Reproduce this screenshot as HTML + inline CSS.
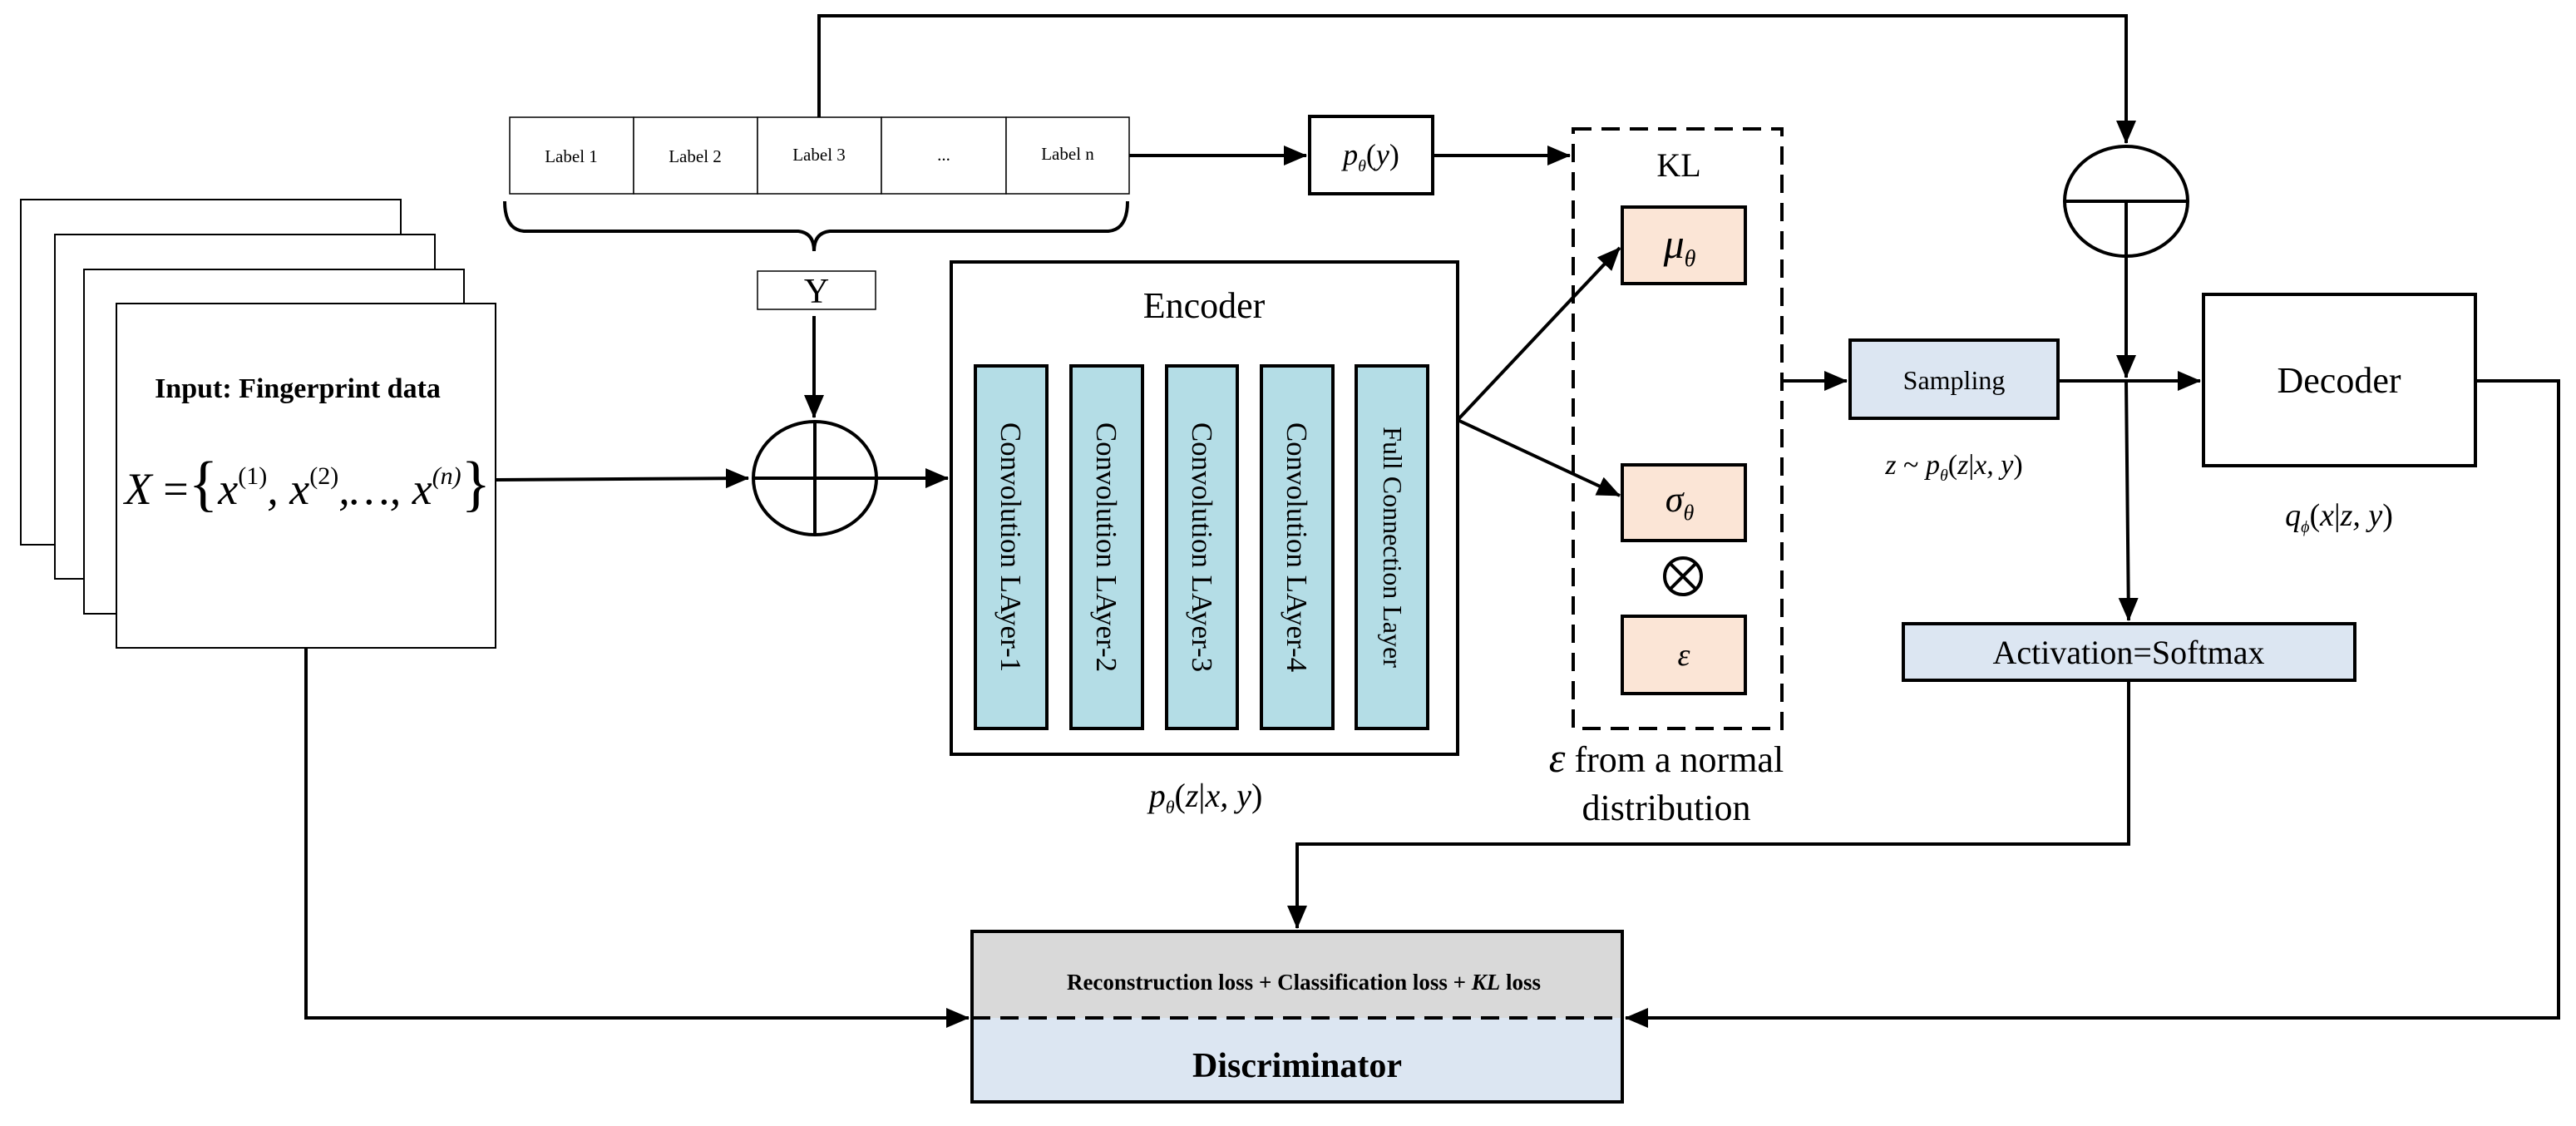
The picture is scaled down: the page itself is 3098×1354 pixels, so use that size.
<!DOCTYPE html>
<html><head><meta charset="utf-8"><style>
html,body{margin:0;padding:0;background:#fff;}
svg{display:block;}
text{font-family:"Liberation Serif",serif;fill:#000;}
</style></head><body>
<svg width="3098" height="1354" viewBox="0 0 3098 1354" xmlns="http://www.w3.org/2000/svg">
<defs>
<marker id="b" markerWidth="28" markerHeight="24" refX="27" refY="12" orient="auto" markerUnits="userSpaceOnUse">
<path d="M0,0 L28,12 L0,24 z" fill="#000"/>
</marker>
</defs>
<g fill="#fff" stroke="#000" stroke-width="2">
<rect x="25" y="240" width="457" height="415"/>
<rect x="66" y="282" width="457" height="414"/>
<rect x="101" y="324" width="457" height="414"/>
<rect x="140" y="365" width="456" height="414"/>
</g>
<text x="358" y="478" font-size="34" font-weight="bold" text-anchor="middle">Input: Fingerprint data</text>
<text x="370" y="606" font-size="54" text-anchor="middle" font-style="italic">X <tspan font-style="normal">=</tspan><tspan font-size="74" font-style="normal">{</tspan>x<tspan font-size="30" font-style="normal" dy="-24">(1)</tspan><tspan dy="24">, x</tspan><tspan font-size="30" font-style="normal" dy="-24">(2)</tspan><tspan dy="24">,…, x</tspan><tspan font-size="30" dy="-24">(n)</tspan><tspan dy="24" font-size="74" font-style="normal">}</tspan></text>

<g fill="#fff" stroke="#000" stroke-width="1.5">
<rect x="613" y="141" width="149" height="92"/>
<rect x="762" y="141" width="149" height="92"/>
<rect x="911" y="141" width="149" height="92"/>
<rect x="1060" y="141" width="150" height="92"/>
<rect x="1210" y="141" width="148" height="92"/>
</g>
<g font-size="21" text-anchor="middle">
<text x="687" y="195">Label 1</text><text x="836" y="195">Label 2</text><text x="985" y="193">Label 3</text><text x="1135" y="193">...</text><text x="1284" y="192">Label n</text>
</g>
<path d="M607,242 Q607,276 630,278 L960,278 Q979,280 979,302 Q979,280 998,278 L1333,278 Q1356,276 1356,242" fill="none" stroke="#000" stroke-width="4"/>
<rect x="911" y="326" width="142" height="46" fill="#fff" stroke="#000" stroke-width="1.5"/>
<text x="982" y="364" font-size="42" text-anchor="middle">Y</text>

<g stroke="#000" stroke-width="4" fill="none">
<path d="M985,141 V19 H2557 V172" marker-end="url(#b)"/>
<path d="M979,380 V502" marker-end="url(#b)"/>
<ellipse cx="980" cy="575" rx="74" ry="68"/>
<path d="M980,507 V644 M906,575 H1054"/>
<path d="M596,577 L900,575" marker-end="url(#b)"/>
<path d="M1054,575 H1140" marker-end="url(#b)"/>
<path d="M368,779 V1224 H1165" marker-end="url(#b)"/>
<path d="M1358,187 H1571" marker-end="url(#b)"/>
<path d="M1723,187 H1888" marker-end="url(#b)"/>
<path d="M1753,505 L1948,298" marker-end="url(#b)"/>
<path d="M1753,505 L1948,596" marker-end="url(#b)"/>
<path d="M2143,458 H2221" marker-end="url(#b)"/>
<ellipse cx="2557" cy="242" rx="74" ry="66"/>
<path d="M2483,242 H2631"/>
<path d="M2557,242 V454" marker-end="url(#b)"/>
<path d="M2475,458 H2646" marker-end="url(#b)"/>
<path d="M2557,458 L2560,746" marker-end="url(#b)"/>
<path d="M2560,818 V1015 H1560 V1116" marker-end="url(#b)"/>
<path d="M2977,458 H3077 V1224 H1955" marker-end="url(#b)"/>
</g>

<rect x="1144" y="315" width="609" height="592" fill="#fff" stroke="#000" stroke-width="4"/>
<text x="1448" y="382" font-size="44" text-anchor="middle">Encoder</text>
<g fill="#b4dde6" stroke="#000" stroke-width="4">
<rect x="1173" y="440" width="86" height="436"/>
<rect x="1288" y="440" width="86" height="436"/>
<rect x="1403" y="440" width="85" height="436"/>
<rect x="1517" y="440" width="86" height="436"/>
<rect x="1631" y="440" width="86" height="436"/>
</g>
<g font-size="35" text-anchor="middle">
<text transform="translate(1204,658) rotate(90)">Convolution LAyer-1</text>
<text transform="translate(1319,658) rotate(90)">Convolution LAyer-2</text>
<text transform="translate(1434,658) rotate(90)">Convolution LAyer-3</text>
<text transform="translate(1548,658) rotate(90)">Convolution LAyer-4</text>
<text font-size="32" transform="translate(1664,658) rotate(90)">Full Connection Layer</text>
</g>
<text x="1450" y="970" font-size="40" text-anchor="middle" font-style="italic">p<tspan font-size="22" dy="8">θ</tspan><tspan dy="-8" font-style="normal">(</tspan>z<tspan font-style="normal">|</tspan>x, y<tspan font-style="normal">)</tspan></text>

<rect x="1575" y="140" width="148" height="93" fill="#fff" stroke="#000" stroke-width="4"/>
<text x="1649" y="198" font-size="36" text-anchor="middle" font-style="italic">p<tspan font-size="20" dy="8">θ</tspan><tspan dy="-8" font-style="normal">(</tspan>y<tspan font-style="normal">)</tspan></text>

<rect x="1892" y="155" width="251" height="721" fill="none" stroke="#000" stroke-width="4" stroke-dasharray="22,12"/>
<text x="2019" y="212" font-size="40" text-anchor="middle">KL</text>
<g fill="#fbe5d6" stroke="#000" stroke-width="4">
<rect x="1951" y="249" width="148" height="92"/>
<rect x="1951" y="559" width="148" height="91"/>
<rect x="1951" y="741" width="148" height="93"/>
</g>
<text x="2020" y="310" font-size="50" text-anchor="middle" font-style="italic">μ<tspan font-size="28" dy="10">θ</tspan></text>
<text x="2020" y="615" font-size="44" text-anchor="middle" font-style="italic">σ<tspan font-size="26" dy="10">θ</tspan></text>
<text x="2025" y="800" font-size="38" text-anchor="middle" font-style="italic">ε</text>
<circle cx="2024" cy="693" r="22" fill="none" stroke="#000" stroke-width="4"/>
<path d="M2009,678 L2039,708 M2039,678 L2009,708" stroke="#000" stroke-width="4"/>
<text x="2004" y="928" font-size="44" text-anchor="middle"><tspan font-style="italic" font-size="50">ε</tspan> from a normal</text>
<text x="2004" y="986" font-size="44" text-anchor="middle">distribution</text>

<rect x="2225" y="409" width="250" height="94" fill="#dce6f2" stroke="#000" stroke-width="4"/>
<text x="2350" y="468" font-size="32" text-anchor="middle">Sampling</text>
<text x="2350" y="570" font-size="34" text-anchor="middle" font-style="italic">z <tspan font-style="normal">~</tspan> p<tspan font-size="20" dy="8">θ</tspan><tspan dy="-8" font-style="normal">(</tspan>z<tspan font-style="normal">|</tspan>x, y<tspan font-style="normal">)</tspan></text>

<rect x="2650" y="354" width="327" height="206" fill="#fff" stroke="#000" stroke-width="4"/>
<text x="2813" y="472" font-size="44" text-anchor="middle">Decoder</text>
<text x="2813" y="632" font-size="38" text-anchor="middle" font-style="italic">q<tspan font-size="20" dy="8">ϕ</tspan><tspan dy="-8" font-style="normal">(</tspan>x<tspan font-style="normal">|</tspan>z, y<tspan font-style="normal">)</tspan></text>

<rect x="2289" y="750" width="543" height="68" fill="#dce6f2" stroke="#000" stroke-width="4"/>
<text x="2560" y="798" font-size="40" text-anchor="middle">Activation=Softmax</text>

<rect x="1169" y="1120" width="782" height="104" fill="#d9d9d9"/>
<rect x="1169" y="1224" width="782" height="101" fill="#dce6f2"/>
<rect x="1169" y="1120" width="782" height="205" fill="none" stroke="#000" stroke-width="4"/>
<path d="M1169,1224 H1951" stroke="#000" stroke-width="4" stroke-dasharray="22,12"/>
<text x="1568" y="1190" font-size="27" font-weight="bold" text-anchor="middle">Reconstruction loss + Classification loss + <tspan font-style="italic">KL</tspan> loss</text>
<text x="1560" y="1295" font-size="42" font-weight="bold" text-anchor="middle">Discriminator</text>
</svg>
</body></html>
